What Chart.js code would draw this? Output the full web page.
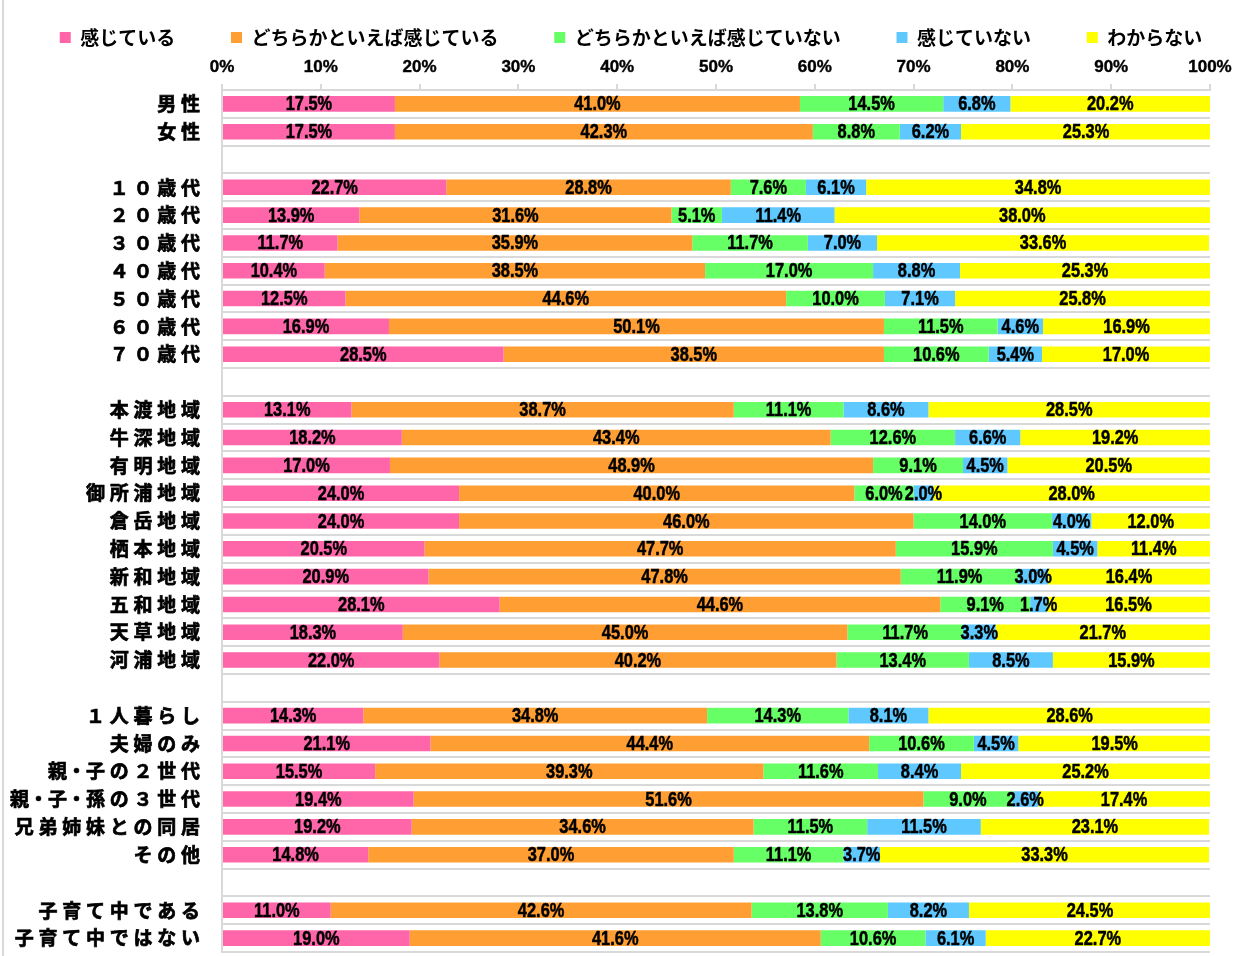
<!DOCTYPE html>
<html lang="ja">
<head>
<meta charset="utf-8">
<script src="https://cdn.jsdelivr.net/npm/chart.js@4"></script>
<style>
  html, body { margin: 0; padding: 0; background: #fff; }
  #wrap { position: relative; width: 1254px; height: 956px; }
  #frame { position: absolute; left: 2px; top: 0; width: 2px; height: 956px; background: #d9d9d9; }
  #chart { position: absolute; left: 0; top: 0; }
</style>
</head>
<body>
<div id="wrap">
  <div id="frame"></div>
  <canvas id="chart" width="1254" height="956"></canvas>
</div>
<script>
// rows; empty strings are spacer rows between the groups
const categories = [
    "男性", "女性", "",
    "１０歳代", "２０歳代", "３０歳代", "４０歳代", "５０歳代", "６０歳代", "７０歳代", "",
    "本渡地域", "牛深地域", "有明地域", "御所浦地域", "倉岳地域", "栖本地域", "新和地域", "五和地域", "天草地域", "河浦地域", "",
    "１人暮らし", "夫婦のみ", "親・子の２世代", "親・子・孫の３世代", "兄弟姉妹との同居", "その他", "",
    "子育て中である", "子育て中ではない"
];

const seriesNames = ["感じている", "どちらかといえば感じている", "どちらかといえば感じていない", "感じていない", "わからない"];

const feel = [17.5, 17.5, null,
    22.7, 13.9, 11.7, 10.4, 12.5, 16.9, 28.5, null,
    13.1, 18.2, 17.0, 24.0, 24.0, 20.5, 20.9, 28.1, 18.3, 22.0, null,
    14.3, 21.1, 15.5, 19.4, 19.2, 14.8, null,
    11.0, 19.0];
const ratherFeel = [41.0, 42.3, null,
    28.8, 31.6, 35.9, 38.5, 44.6, 50.1, 38.5, null,
    38.7, 43.4, 48.9, 40.0, 46.0, 47.7, 47.8, 44.6, 45.0, 40.2, null,
    34.8, 44.4, 39.3, 51.6, 34.6, 37.0, null,
    42.6, 41.6];
const ratherNot = [14.5, 8.8, null,
    7.6, 5.1, 11.7, 17.0, 10.0, 11.5, 10.6, null,
    11.1, 12.6, 9.1, 6.0, 14.0, 15.9, 11.9, 9.1, 11.7, 13.4, null,
    14.3, 10.6, 11.6, 9.0, 11.5, 11.1, null,
    13.8, 10.6];
const notFeel = [6.8, 6.2, null,
    6.1, 11.4, 7.0, 8.8, 7.1, 4.6, 5.4, null,
    8.6, 6.6, 4.5, 2.0, 4.0, 4.5, 3.0, 1.7, 3.3, 8.5, null,
    8.1, 4.5, 8.4, 2.6, 11.5, 3.7, null,
    8.2, 6.1];
const unknown = [20.2, 25.3, null,
    34.8, 38.0, 33.6, 25.3, 25.8, 16.9, 17.0, null,
    28.5, 19.2, 20.5, 28.0, 12.0, 11.4, 16.4, 16.5, 21.7, 15.9, null,
    28.6, 19.5, 25.2, 17.4, 23.1, 33.3, null,
    24.5, 22.7];

const xTicks = [0, 10, 20, 30, 40, 50, 60, 70, 80, 90, 100];

const colors = ["#ff66aa", "#ff9f33", "#66ff66", "#5fc8ff", "#ffff00"];
const seriesValues = [feel, ratherFeel, ratherNot, notFeel, unknown];

const numFont = "'Liberation Sans', Arial, sans-serif";
const jpFont = "'Noto Sans CJK JP', sans-serif";

// value labels centred in each bar segment, squeezed to a narrow face
const segmentLabels = {
    id: 'segmentLabels',
    afterDatasetsDraw(chart) {
        const ctx = chart.ctx;
        const squeeze = 0.82;
        ctx.save();
        ctx.font = "bold 20px " + numFont;
        ctx.fillStyle = "#000";
        ctx.strokeStyle = "#000";
        ctx.lineWidth = 0.5;
        ctx.textAlign = "center";
        ctx.textBaseline = "middle";
        chart.data.datasets.forEach((ds, i) => {
            const meta = chart.getDatasetMeta(i);
            meta.data.forEach((bar, j) => {
                const v = ds.data[j];
                if (v === null || v === undefined) return;
                const cx = (bar.x + bar.base) / 2;
                const txt = v.toFixed(1) + "%";
                ctx.save();
                ctx.translate(cx, bar.y + 1);
                ctx.scale(squeeze, 1);
                ctx.fillText(txt, 0, 0);
                ctx.strokeText(txt, 0, 0);
                ctx.restore();
            });
        });
        ctx.restore();
    }
};

// spread the characters of a row label, but not around the middle dot
const spaced = (s) => {
    let out = "";
    for (let i = 0; i < s.length; i++) {
        out += s[i];
        if (i < s.length - 1 && s[i] !== "・" && s[i + 1] !== "・") out += "\u2005";
    }
    return out;
};

const chart = new Chart(document.getElementById('chart'), {
    type: 'bar',
    data: {
        labels: categories,
        datasets: seriesNames.map((name, i) => ({
            label: name,
            data: seriesValues[i],
            backgroundColor: colors[i],
            borderWidth: 0,
            barPercentage: 0.56,
            categoryPercentage: 1.0
        }))
    },
    options: {
        indexAxis: 'y',
        responsive: false,
        animation: false,
        layout: {
            padding: { top: 15, left: 8, right: 0, bottom: 4 }
        },
        scales: {
            x: {
                position: 'top',
                stacked: true,
                min: 0,
                max: 100,
                afterBuildTicks: (scale) => {
                    scale.ticks = xTicks.map(v => ({ value: v }));
                },
                afterFit: (scale) => {
                    scale.height = 33;
                    scale.paddingRight = 44;
                },
                ticks: {
                    padding: 6,
                    color: "#000",
                    textStrokeColor: "#000",
                    textStrokeWidth: 0.4,
                    font: { family: numFont, size: 17, weight: 'bold' },
                    callback: (v) => v + "%"
                },
                grid: {
                    drawOnChartArea: false,
                    drawTicks: true,
                    tickLength: 6,
                    color: "#d9d9d9",
                    lineWidth: 2
                },
                border: { color: "#d9d9d9", width: 2 }
            },
            y: {
                stacked: true,
                afterFit: (scale) => {
                    scale.width = 222 - 8;
                    // the label gap should not eat into the plot height
                    scale.paddingTop = 0;
                    scale.paddingBottom = 0;
                },
                ticks: {
                    padding: 22,
                    color: "#000",
                    textStrokeColor: "#000",
                    textStrokeWidth: 0.7,
                    autoSkip: false,
                    font: { family: jpFont, size: 19, weight: 'bold' },
                    callback: function (value) {
                        return spaced(this.getLabelForValue(value));
                    }
                },
                grid: {
                    drawTicks: false,
                    color: "#d9d9d9",
                    lineWidth: 2
                },
                border: { color: "#d9d9d9", width: 2 }
            }
        },
        plugins: {
            legend: {
                position: 'top',
                labels: {
                    boxWidth: 11,
                    boxHeight: 11,
                    padding: 13,
                    color: "#000",
                    font: { family: jpFont, size: 19, weight: 'bold' },
                    generateLabels: (c) => {
                        const items = Chart.defaults.plugins.legend.labels.generateLabels(c);
                        // widen the gap between entries
                        items.forEach((it, i) => {
                            if (i < items.length - 1) it.text = it.text + "\u2003\u2003\u2005";
                        });
                        return items;
                    }
                }
            },
            tooltip: { enabled: false }
        }
    },
    plugins: [segmentLabels]
});
</script>
</body>
</html>
